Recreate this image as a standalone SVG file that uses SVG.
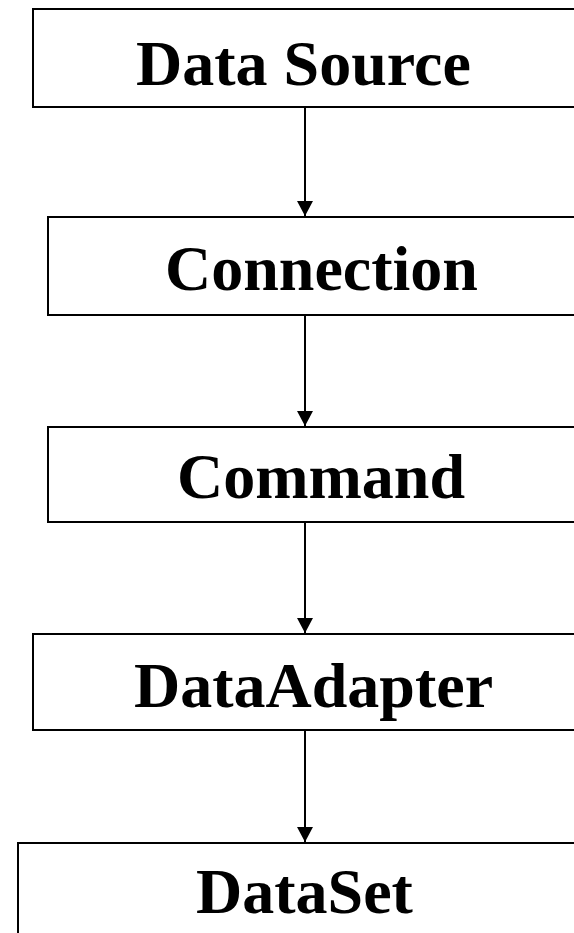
<svg xmlns="http://www.w3.org/2000/svg" width="574" height="933" viewBox="0 0 574 933">
  <style>
    .box { fill: #ffffff; stroke: #000000; stroke-width: 2; }
    .label { font-family: "Liberation Serif", "Times New Roman", serif; font-weight: bold; font-size: 64px; fill: #000000; }
    .link { stroke: #000000; stroke-width: 2; fill: none; }
  </style>
  <defs>
    <!-- arrowhead drawn along +x so orient="auto" turns it along the line -->
    <marker id="arrow" viewBox="0 0 15 16" refX="15" refY="8" markerWidth="15" markerHeight="16" markerUnits="userSpaceOnUse" orient="auto">
      <path d="M0,0 L15,8 L0,16 Z" fill="#000000"/>
    </marker>
  </defs>
  <rect width="574" height="933" fill="#ffffff"/>

  <g id="node-datasource">
    <rect class="box" x="33" y="9" width="560" height="98"/>
    <text class="label" x="136" y="85">Data Source</text>
  </g>
  <g id="node-connection">
    <rect class="box" x="48" y="217" width="545" height="98"/>
    <text class="label" x="165" y="290">Connection</text>
  </g>
  <g id="node-command">
    <rect class="box" x="48" y="427" width="545" height="95"/>
    <text class="label" x="177" y="498">Command</text>
  </g>
  <g id="node-dataadapter">
    <rect class="box" x="33" y="634" width="560" height="96"/>
    <text class="label" x="134" y="707">DataAdapter</text>
  </g>
  <g id="node-dataset">
    <rect class="box" x="18" y="843" width="575" height="110"/>
    <text class="label" x="196" y="913">DataSet</text>
  </g>

  <g id="connectors">
    <line class="link" x1="305" y1="107" x2="305" y2="216" marker-end="url(#arrow)"/>
    <line class="link" x1="305" y1="315" x2="305" y2="426" marker-end="url(#arrow)"/>
    <line class="link" x1="305" y1="522" x2="305" y2="633" marker-end="url(#arrow)"/>
    <line class="link" x1="305" y1="730" x2="305" y2="842" marker-end="url(#arrow)"/>
  </g>
</svg>
